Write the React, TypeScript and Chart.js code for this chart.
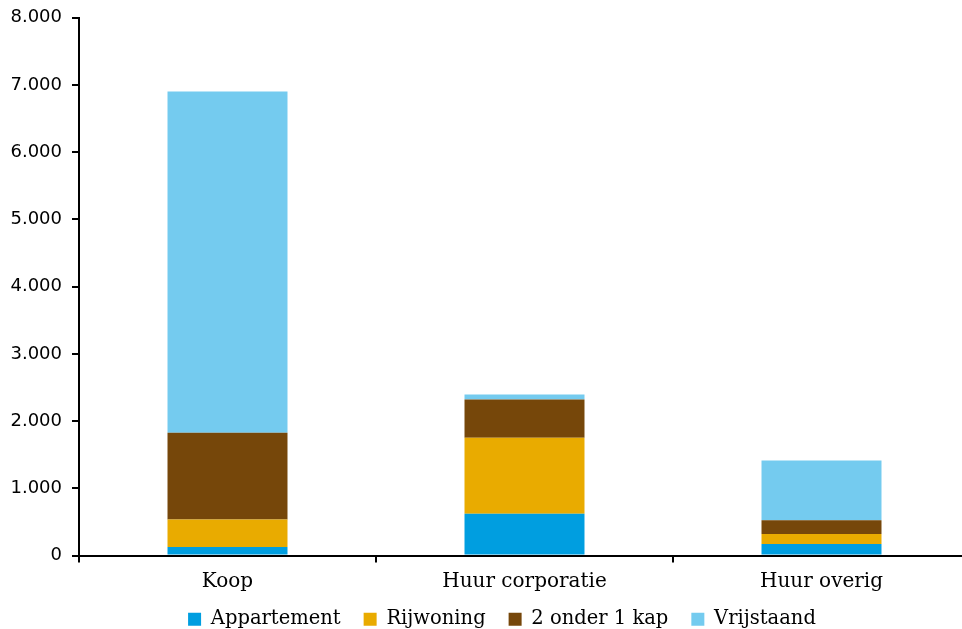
import React, { useEffect, useRef } from "react";
import { Chart, registerables } from "chart.js";

Chart.register(...registerables);

const categories = ["Koop", "Huur corporatie", "Huur overig"];
const appartement = [126, 620, 171];
const rijwoning = [411, 1133, 148];
const tweeOnder1Kap = [1290, 567, 207];
const vrijstaand = [5075, 75, 886];
const seriesNames = ["Appartement", "Rijwoning", "2 onder 1 kap", "Vrijstaand"];
const seriesColors = ["#009EE0", "#E9AB00", "#76470A", "#74CBEF"];

const fmt = (v: number) => {
  const s = Math.round(v).toString();
  return s.replace(/\B(?=(\d{3})+(?!\d))/g, ".");
};

const legendShift = {
  id: "legendShift",
  afterLayout(chart: any) {
    const lg = chart.legend;
    if (!lg) return;
    lg.top -= 14;
    lg.bottom -= 14;
    lg.left += 17;
    lg.right += 17;
  },
};

export default function App() {
  const ref = useRef<HTMLCanvasElement | null>(null);
  useEffect(() => {
    if (!ref.current) return;
    const serif = "'DejaVu Serif', serif";
    const chart = new Chart(ref.current, {
      type: "bar",
      data: {
        labels: categories,
        datasets: [appartement, rijwoning, tweeOnder1Kap, vrijstaand].map((d, i) => ({
          label: seriesNames[i],
          data: d,
          backgroundColor: seriesColors[i],
          borderWidth: 0,
          categoryPercentage: 1,
          barPercentage: 0.404,
        })),
      },
      plugins: [legendShift],
      options: {
        responsive: false,
        animation: false,
        layout: { padding: { top: 4, right: 22, left: 0, bottom: 0 } },
        plugins: {
          tooltip: { enabled: false },
          legend: {
            position: "bottom",
            labels: {
              boxWidth: 13,
              boxHeight: 13,
              color: "#000",
              font: { family: serif, size: 19.5 },
              padding: 23,
            },
          },
        },
        scales: {
          x: {
            stacked: true,
            border: { color: "#000", width: 2 },
            grid: { drawOnChartArea: false, color: "#000", tickLength: 7, lineWidth: 2, offset: true },
            ticks: { color: "#000", font: { family: serif, size: 20 }, padding: 7 },
          },
          y: {
            stacked: true,
            min: 0,
            max: 8000,
            border: { color: "#000", width: 2 },
            grid: { drawOnChartArea: false, color: "#000", tickLength: 7, lineWidth: 2 },
            afterFit: (s: any) => { s.width = 79; },
            ticks: {
              stepSize: 1000,
              color: "#000",
              padding: 10,
              font: { family: "'DejaVu Sans', sans-serif", size: 18 },
              callback: (v: any) => fmt(Number(v)),
            },
          },
        },
      },
    });
    return () => chart.destroy();
  }, []);
  return (
    <div style={{ position: "fixed", left: 0, top: 0, width: 962, height: 629, overflow: "hidden", background: "#fff" }}>
      <canvas ref={ref} width={992} height={656} style={{ display: "block", width: 992, height: 656, marginTop: -3 }} />
    </div>
  );
}
